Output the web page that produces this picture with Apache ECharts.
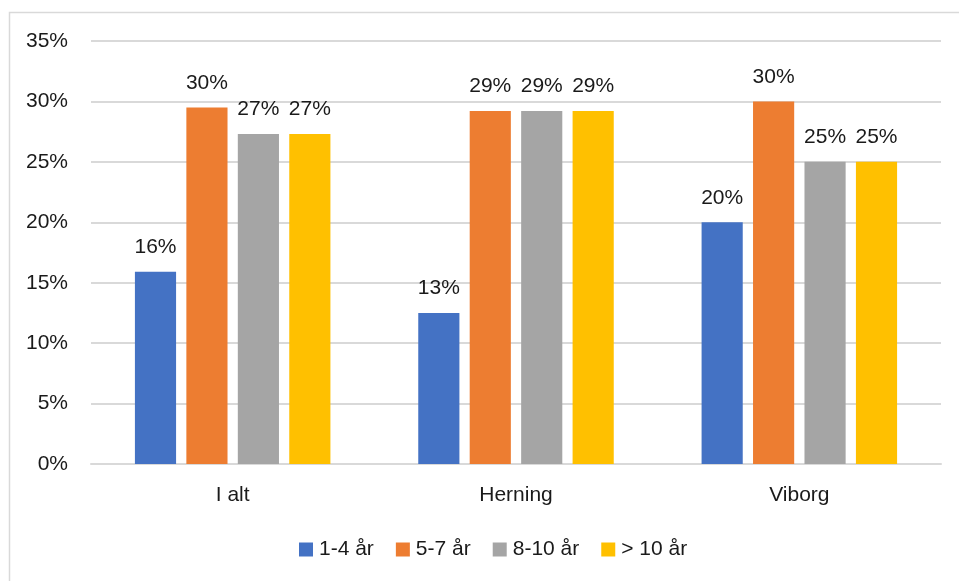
<!DOCTYPE html>
<html>
<head>
<meta charset="utf-8">
<script src="https://cdn.jsdelivr.net/npm/echarts@6/dist/echarts.min.js"></script>
<style>html,body{margin:0;padding:0;background:#fff;}#c{width:959px;height:581px;}</style>
</head>
<body>
<div id="c"></div>
<script>
var categories = ['I alt', 'Herning', 'Viborg'];
var seriesNames = ['1-4 år', '5-7 år', '8-10 år', '> 10 år'];
var s1 = [15.9, 12.5, 20.0];
var s2 = [29.5, 29.2, 30.0];
var s3 = [27.3, 29.2, 25.0];
var s4 = [27.3, 29.2, 25.0];
var colors = ['#4472C4', '#ED7D31', '#A5A5A5', '#FFC000'];
var yTicks = [0, 5, 10, 15, 20, 25, 30, 35];

var FONT = 'Liberation Sans';
var TXT = '#1a1a1a';
var FS = 21;
var data = [s1, s2, s3, s4];
var chart = echarts.init(document.getElementById('c'), null, {renderer: 'canvas'});
chart.setOption({
  animation: false,
  backgroundColor: '#fff',
  graphic: [{
    type: 'rect', shape: {x: 9.5, y: 12.5, width: 980, height: 600},
    style: {fill: 'none', stroke: '#d9d9d9', lineWidth: 1.5}, z: -1
  }],
  grid: {left: 91, right: 18, top: 41, bottom: 117},
  legend: {
    left: 299, top: 539, padding: 0, itemWidth: 14, itemHeight: 14, itemGap: 22,
    icon: 'rect',
    textStyle: {fontFamily: FONT, fontSize: FS, color: TXT, padding: [0, 0, 0, 1]},
    data: seriesNames
  },
  xAxis: {
    type: 'category', data: categories,
    axisLine: {lineStyle: {color: '#d9d9d9', width: 2}},
    axisTick: {show: false},
    axisLabel: {fontFamily: FONT, fontSize: FS, color: TXT, margin: 21}
  },
  yAxis: {
    type: 'value', min: yTicks[0], max: yTicks[yTicks.length - 1], interval: 5,
    axisLine: {show: false}, axisTick: {show: false},
    splitLine: {lineStyle: {color: '#d9d9d9', width: 2}},
    axisLabel: {fontFamily: FONT, fontSize: FS, color: TXT, margin: 23,
      formatter: function (v) { return v + '%'; }}
  },
  series: seriesNames.map(function (n, i) {
    return {
      name: n, type: 'bar', data: data[i],
      barGap: '25%', barCategoryGap: '31%',
      itemStyle: {color: colors[i]},
      label: {show: true, position: 'top', distance: 14, fontFamily: FONT, fontSize: FS, color: TXT,
        formatter: function (p) { return Math.round(p.value) + '%'; }}
    };
  })
});
</script>
</body>
</html>
